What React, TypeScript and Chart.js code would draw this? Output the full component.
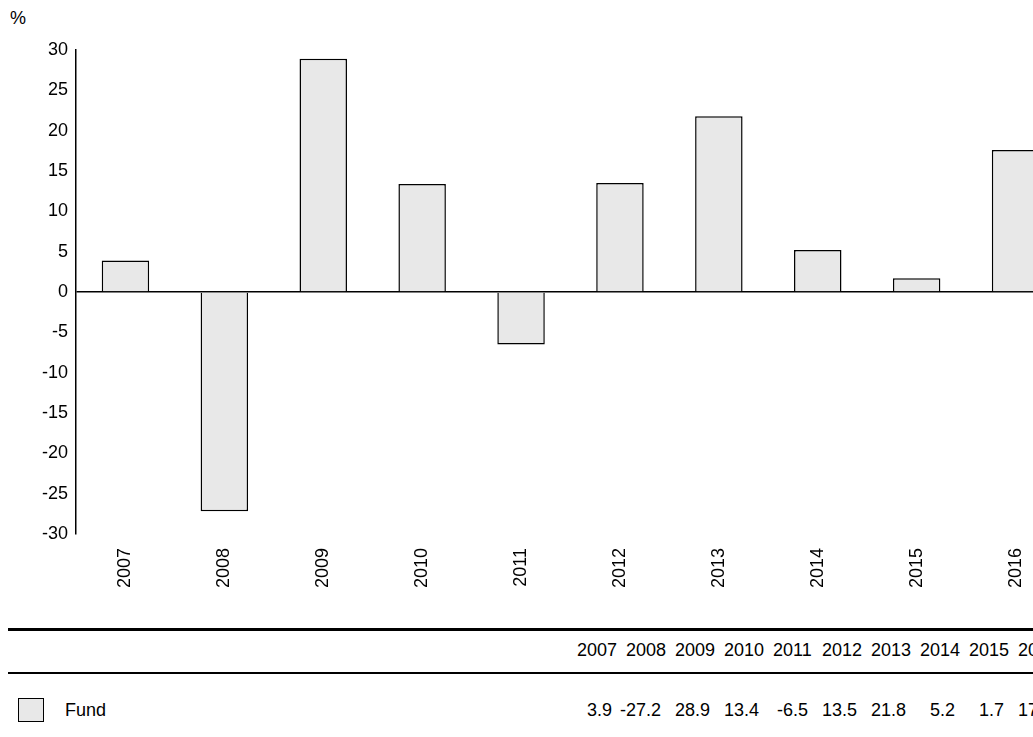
import { useEffect, useRef } from 'react';
import { Chart, registerables } from 'chart.js';

Chart.register(...registerables);

const YEARS = ['2007', '2008', '2009', '2010', '2011', '2012', '2013', '2014', '2015', '2016'];
const FUND = [3.9, -27.2, 28.9, 13.4, -6.5, 13.5, 21.8, 5.2, 1.7, 17.6];
const FONT = 'Arial, "Liberation Sans", sans-serif';

export default function App() {
  const canvasRef = useRef<HTMLCanvasElement>(null);
  const chartRef = useRef<Chart | null>(null);

  useEffect(() => {
    if (!canvasRef.current) return;
    if (chartRef.current) chartRef.current.destroy();

    chartRef.current = new Chart(canvasRef.current, {
      type: 'bar',
      data: {
        labels: YEARS,
        datasets: [
          {
            label: 'Fund',
            data: FUND,
            backgroundColor: '#e8e8e8',
            borderColor: '#000',
            borderWidth: 1.5,
            categoryPercentage: 1,
            barPercentage: 0.48,
          },
        ],
      },
      options: {
        responsive: false,
        animation: false,
        layout: { padding: { top: 50, left: 0, right: 0 } },
        plugins: { legend: { display: false }, tooltip: { enabled: false } },
        scales: {
          x: {
            grid: { display: false },
            border: { display: false },
            ticks: {
              color: '#000',
              font: { family: FONT, size: 18 },
              minRotation: 90,
              maxRotation: 90,
              padding: 6,
            },
          },
          y: {
            min: -30,
            max: 30,
            afterFit: (s: any) => {
              s.width = 76;
            },
            border: { display: true, color: '#000', width: 1.5 },
            grid: {
              drawTicks: false,
              color: (c: any) => (c.tick && c.tick.value === 0 ? '#000' : 'transparent'),
              lineWidth: 1.5,
            },
            ticks: {
              stepSize: 5,
              color: '#000',
              padding: 8,
              font: { family: FONT, size: 18 },
            },
          },
        },
      },
    });

    return () => chartRef.current?.destroy();
  }, []);

  const col = (i: number) => 577 + i * 49;

  return (
    <div style={{ position: 'absolute', left: 0, top: 0, width: 1033, height: 737, overflow: 'hidden', fontFamily: FONT, color: '#000' }}>
      <div style={{ position: 'absolute', left: 10, top: 8, fontSize: 18 }}>%</div>
      <canvas ref={canvasRef} width={1065} height={594} style={{ position: 'absolute', left: 0, top: 0 }} />
      <div style={{ position: 'absolute', left: 8, top: 628, width: 1040, height: 3, background: '#000' }} />
      {YEARS.map((y, i) => (
        <div key={y} style={{ position: 'absolute', left: col(i), top: 640, fontSize: 18 }}>{y}</div>
      ))}
      <div style={{ position: 'absolute', left: 8, top: 672, width: 1040, height: 2, background: '#000' }} />
      <div style={{ position: 'absolute', left: 18, top: 698, width: 26, height: 24, background: '#e8e8e8', border: '1px solid #000', boxSizing: 'border-box' }} />
      <div style={{ position: 'absolute', left: 65, top: 700, fontSize: 18 }}>Fund</div>
      {FUND.map((v, i) => (
        <div key={i} style={{ position: 'absolute', left: col(i) - 23, width: 58, textAlign: 'right', top: 700, fontSize: 18 }}>{v}</div>
      ))}
    </div>
  );
}
